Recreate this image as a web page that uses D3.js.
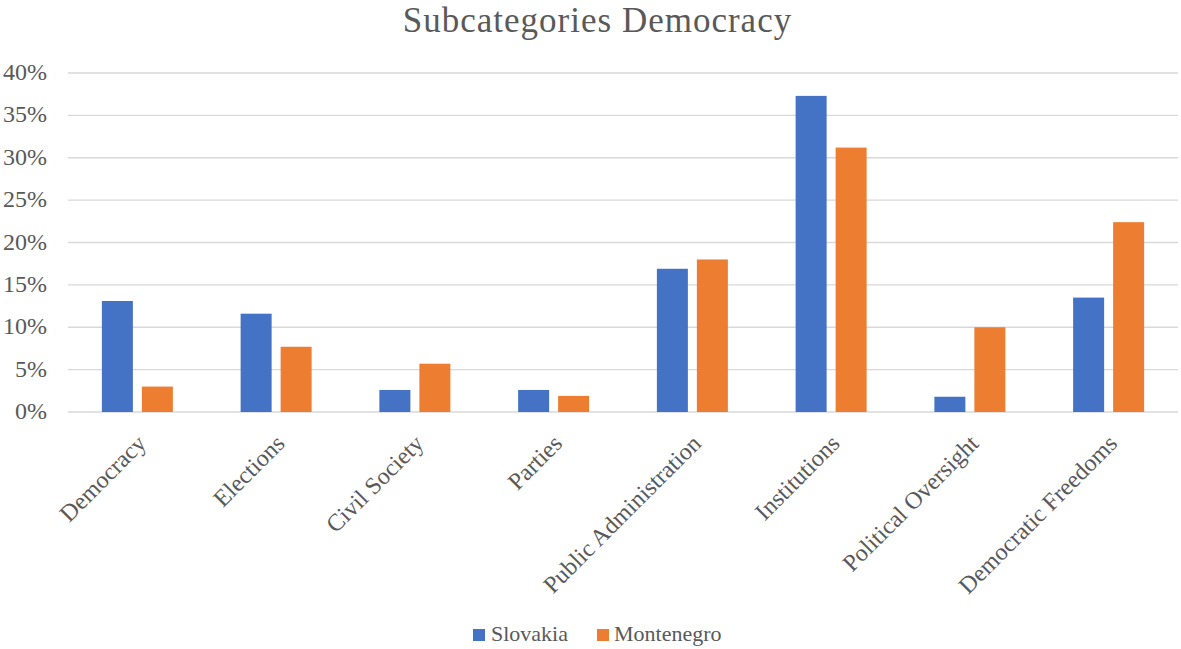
<!DOCTYPE html>
<html>
<head>
<meta charset="utf-8">
<script src="https://cdn.jsdelivr.net/npm/d3@7"></script>
<style>
  html, body { margin: 0; padding: 0; background: #fff; }
  svg { display: block; }
  svg text { font-family: "Liberation Serif", "Times New Roman", serif; fill: #595959; }
</style>
</head>
<body>
<svg id="chart" width="1181" height="649"></svg>
<script>
// Share of items per democracy subcategory, by country
const categories = ["Democracy", "Elections", "Civil Society", "Parties",
  "Public Administration", "Institutions", "Political Oversight", "Democratic Freedoms"];
const seriesNames = ["Slovakia", "Montenegro"];
const slovakia   = [13.1, 11.6, 2.6, 2.6, 16.9, 37.3, 1.8, 13.5];
const montenegro = [3.0, 7.7, 5.7, 1.9, 18.0, 31.2, 10.0, 22.4];
const yTicks = [0, 5, 10, 15, 20, 25, 30, 35, 40];
const colors = ["#4472C4", "#ED7D31"];

const serif = "'Liberation Serif', 'Times New Roman', serif";
const svg = d3.select("#chart");
const plot = { left: 68, right: 1178, top: 73, bottom: 412 };

const x0 = d3.scaleBand().domain(categories).range([plot.left, plot.right]).padding(0);
const x1 = d3.scaleBand().domain(seriesNames).range([0, x0.bandwidth()])
  .paddingInner(0.225).paddingOuter(0.847);
const y = d3.scaleLinear().domain([0, 40]).range([plot.bottom, plot.top]);

// Title
svg.append("text")
  .attr("x", 597.5).attr("y", 32)
  .attr("text-anchor", "middle")
  .style("font-size", "35px")
  .style("letter-spacing", "1px")
  .style("font-family", serif)
  .text("Subcategories Democracy");

// Gridlines
svg.append("g").selectAll("line").data(yTicks).join("line")
  .attr("x1", plot.left).attr("x2", plot.right)
  .attr("y1", d => y(d)).attr("y2", d => y(d))
  .attr("stroke", "#D9D9D9").attr("stroke-width", 1.3);

// Y axis labels
const yAxis = d3.axisLeft(y).tickValues(yTicks).tickFormat(d => d + "%").tickSize(0).tickPadding(0);
const yg = svg.append("g").attr("transform", `translate(47,0)`).call(yAxis)
  .attr("font-family", serif).attr("font-size", 24);
yg.select(".domain").remove();
yg.selectAll("text")
  .attr("dy", null).attr("y", 6.5)
  .style("font-size", "24px")
  .style("font-family", serif)
  .attr("fill", "#595959");

// Bars
const rows = categories.map((c, i) => ({ cat: c, values: [slovakia[i], montenegro[i]] }));
const groups = svg.append("g").selectAll("g").data(rows).join("g")
  .attr("transform", d => `translate(${x0(d.cat)},0)`);
groups.selectAll("rect")
  .data(d => d.values.map((v, j) => ({ name: seriesNames[j], v, j })))
  .join("rect")
  .attr("x", d => x1(d.name))
  .attr("width", x1.bandwidth())
  .attr("y", d => y(d.v))
  .attr("height", d => y(0) - y(d.v))
  .attr("fill", d => colors[d.j]);

// Category labels, rotated
const xAxis = d3.axisBottom(x0).tickSize(0).tickPadding(0);
const xg = svg.append("g").attr("transform", `translate(0,${plot.bottom})`).call(xAxis)
  .attr("font-family", serif).attr("font-size", 24);
xg.select(".domain").remove();
xg.selectAll(".tick text")
  .attr("y", 0).attr("dy", null)
  .attr("text-anchor", "end")
  .attr("transform", "translate(10,33) rotate(-45)")
  .style("font-size", "24px")
  .style("font-family", serif)
  .attr("fill", "#595959");

// Legend
const legendItems = [
  { name: seriesNames[0], color: colors[0], sx: 473, tx: 491 },
  { name: seriesNames[1], color: colors[1], sx: 597, tx: 614 }
];
const lg = svg.append("g");
legendItems.forEach(it => {
  lg.append("rect").attr("x", it.sx).attr("y", 629).attr("width", 12).attr("height", 12).attr("fill", it.color);
  lg.append("text").attr("x", it.tx).attr("y", 641)
    .style("font-size", "22px").style("font-family", serif).text(it.name);
});
</script>
</body>
</html>
